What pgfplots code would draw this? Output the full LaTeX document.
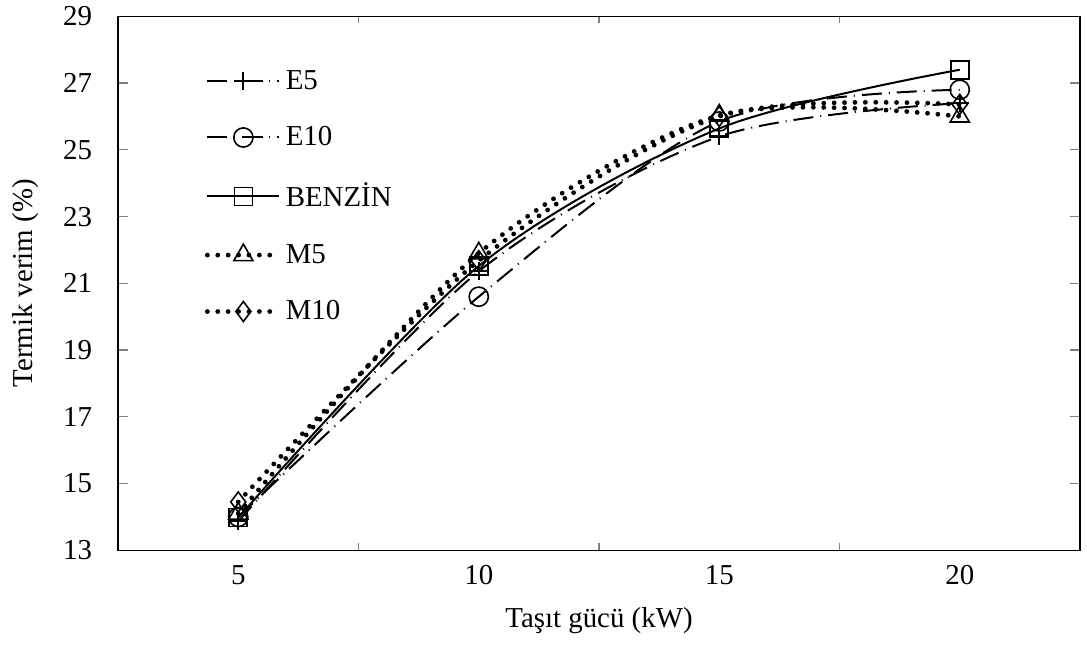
\documentclass[border=0pt]{standalone}
\usepackage{fontspec}
\setmainfont{Liberation Serif}
\usepackage{pgfplots}
\pgfplotsset{compat=1.18}

\begin{document}
\begin{tikzpicture}[font=\fontsize{14.5}{17}\selectfont]
\begin{axis}[
  scale only axis,
  width=481bp, height=267bp,
  xmin=2.5, xmax=22.5,
  ymin=13, ymax=29,
  xtick={5,10,15,20},
  minor xtick={7.5,12.5,17.5},
  ytick={13,15,...,29},
  tick align=inside,
  major x tick style={draw=none},
  minor x tick style={gray, line width=0.6bp},
  minor tick length=3.5bp,
  major y tick style={gray, line width=0.6bp},
  major tick length=5bp,
  axis line style={black, line width=0.8bp},
  tick label style={font=\fontsize{14.5}{17}\selectfont},
  label style={font=\fontsize{14.5}{17}\selectfont},
  xticklabel style={yshift=-4bp},
  yticklabel style={xshift=-9.5bp},
  /pgf/number format/assume math mode=true,
  xlabel={Taşıt gücü (kW)},
  ylabel={Termik verim (\%)},
  xlabel style={at={(axis description cs:0.5,-0.131)}, anchor=center},
  ylabel style={at={(axis description cs:-0.0965,0.5)}, anchor=center},
  legend style={draw=none, fill=none, at={(axis description cs:0.09,0.915)}, anchor=north west,
    row sep=13.2bp, font=\fontsize{14.5}{17}\selectfont, inner xsep=0bp},
  legend cell align=left,
  legend image code/.code={\draw[mark repeat=2, mark phase=2, #1] plot coordinates {(0bp,0bp) (18bp,0bp) (36bp,0bp)};},
  every axis plot/.append style={black, line width=1bp, smooth, tension=0.5},
]
% E5
\addplot[dash pattern=on 10bp off 3.5bp on 0.5bp off 3.5bp, mark=+, mark size=4.5bp,
  mark options={solid, line width=1bp}] coordinates {
  (5,13.87) (10,21.36) (15,25.4) (20,26.4)
};
\addlegendentry{E5}
% E10
\addplot[dash pattern=on 10bp off 3.5bp on 0.5bp off 3.5bp, mark=o, mark size=4.8bp,
  mark options={solid, line width=0.8bp, fill=none}] coordinates {
  (5,14.0) (10,20.6) (15,25.85) (20,26.8)
};
\addlegendentry{E10}
% BENZIN
\addplot[solid, mark=square, mark size=4.5bp, mark options={solid, line width=0.8bp}] coordinates {
  (5,13.98) (10,21.52) (15,25.64) (20,27.4)
};
\addlegendentry{BENZİN}
% M5
\addplot[line width=2.4bp, line cap=round, dash pattern=on 0bp off 5.2bp, mark=triangle,
  mark size=5.5bp, mark options={solid, line width=0.8bp, line cap=butt}] coordinates {
  (5,14.1) (10,21.9) (15,26.03) (20,26.0)
};
\addlegendentry{M5}
% M10
\addplot[line width=2.4bp, line cap=round, dash pattern=on 0bp off 5.2bp, mark=diamond,
  mark size=5bp, mark options={solid, line width=0.8bp, line cap=butt}] coordinates {
  (5,14.45) (10,21.68) (15,26.0) (20,26.36)
};
\addlegendentry{M10}
\end{axis}
\path (current axis.south west) ++(-59bp,-51.5bp) coordinate (bbA);
\path (current axis.south west) ++(484.5bp,273.5bp) coordinate (bbB);
\useasboundingbox (bbA) rectangle (bbB);
\end{tikzpicture}
\end{document}
